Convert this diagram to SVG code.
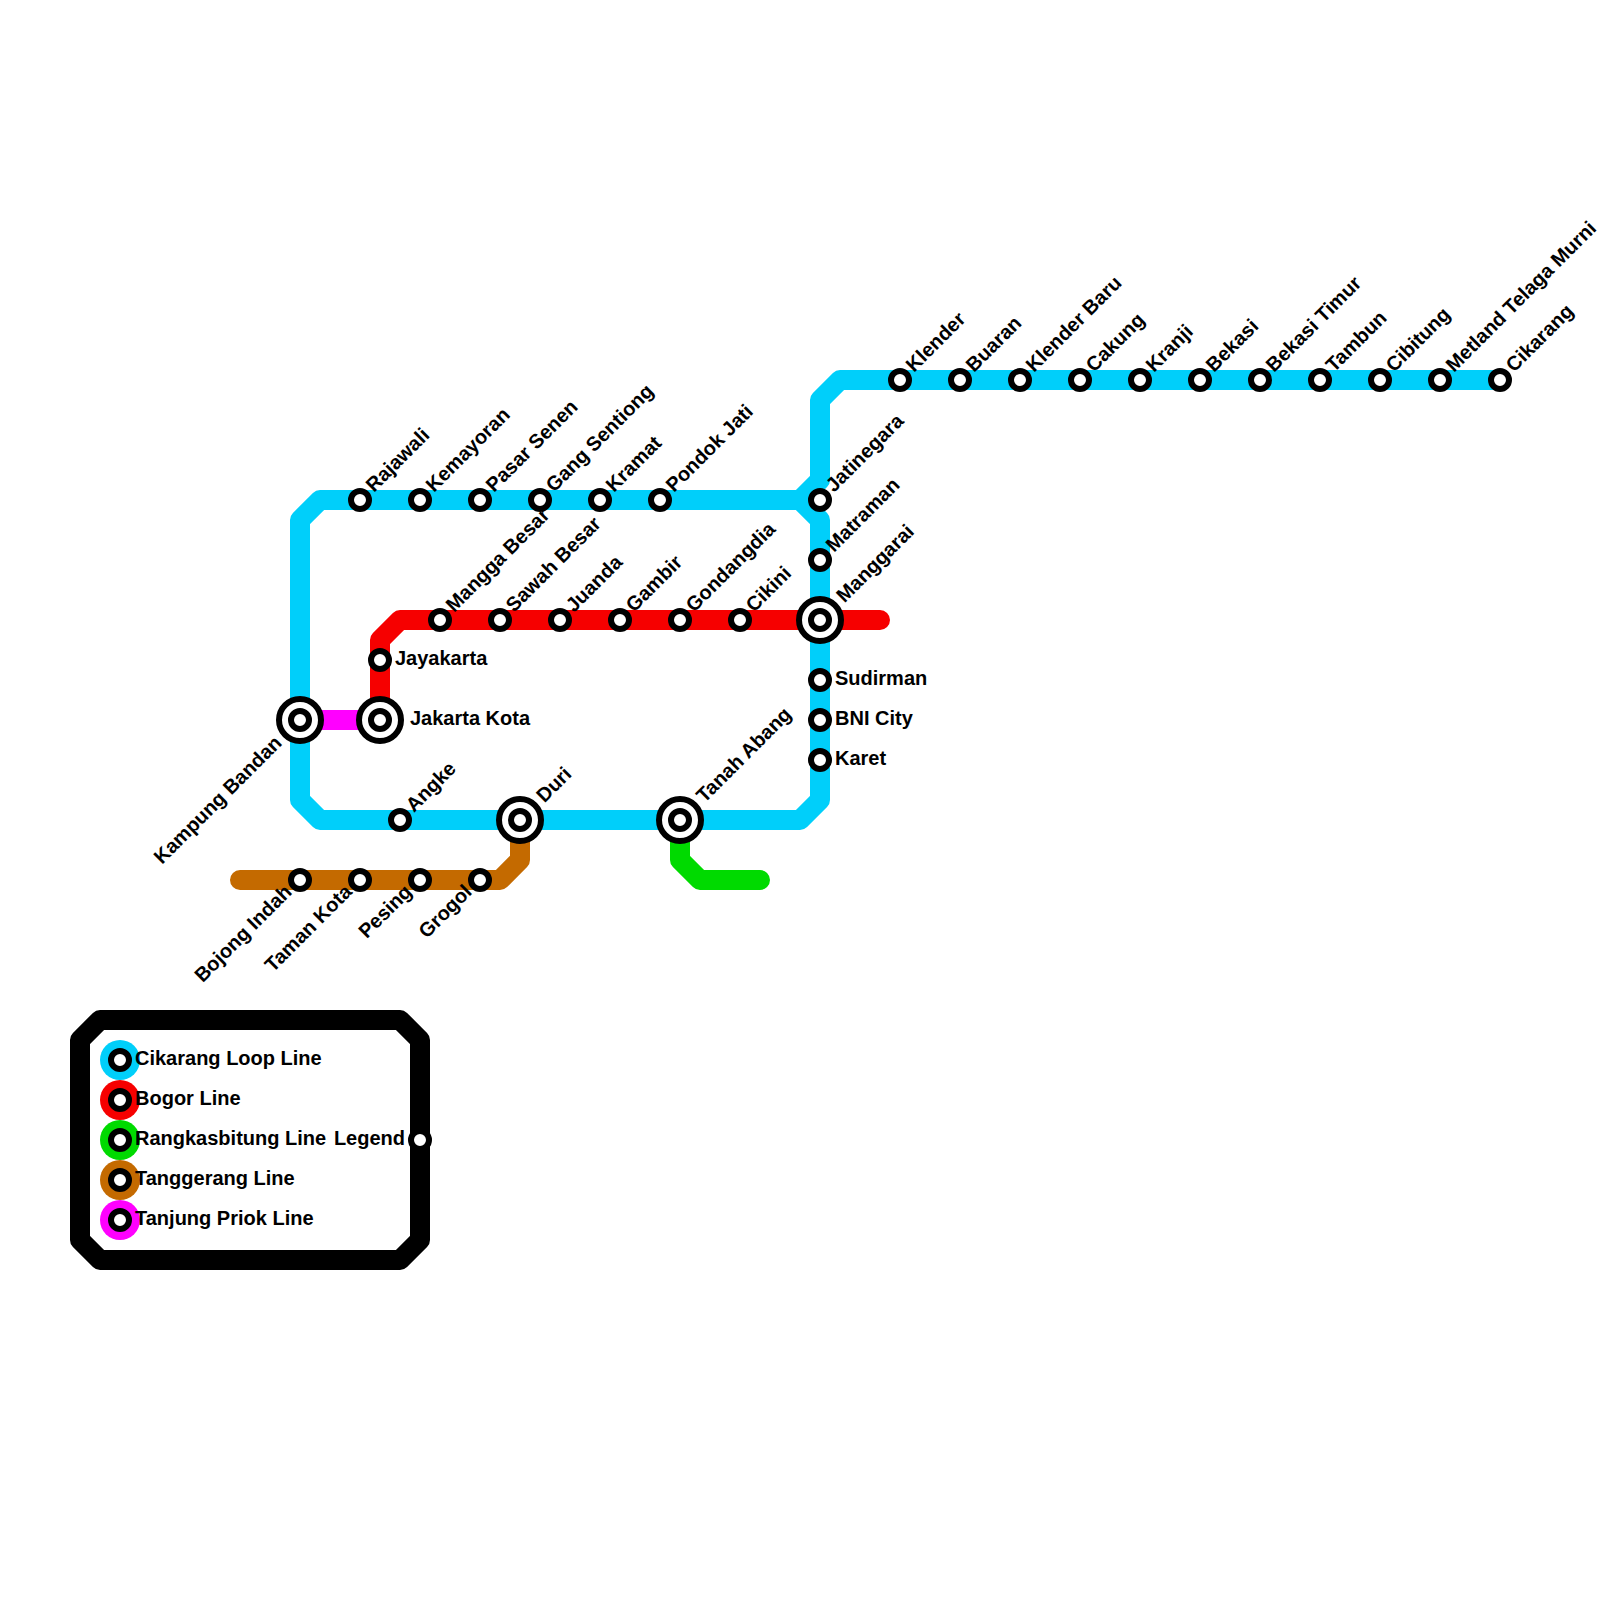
<svg xmlns="http://www.w3.org/2000/svg" width="1600" height="1600" viewBox="0 0 1600 1600">
<style>
text{font-family:"Liberation Sans",Arial,sans-serif;font-weight:bold;font-size:20px;fill:#000}
.end{text-anchor:end}
.l{fill:none;stroke-width:20;stroke-linecap:round;stroke-linejoin:round}
.s{fill:#fff;stroke:#000;stroke-width:6}
</style>
<defs>
<circle id="st" class="s" r="9"/>
<g id="ic"><circle class="s" r="21"/><circle class="s" r="9"/></g>
</defs>
<rect width="1600" height="1600" fill="#fff"/>
<g id="connectors">
<path class="l" stroke="#00cffa" d="M1500 380H840L820 400V480L800 500H320L300 520V800L320 820H800L820 800V520L800 500"/>
<path class="l" stroke="#f60000" d="M880 620H400L380 640V720"/>
<path class="l" stroke="#ff00ff" d="M300 720H380"/>
<path class="l" stroke="#c46a00" d="M240 880H500L520 860V820"/>
<path class="l" stroke="#00da00" d="M680 820V860L700 880H760"/>
</g>
<g id="rajawali"><use href="#st" x="360" y="500"/><text transform="translate(374,493) rotate(-45)">Rajawali</text></g>
<g id="kemayoran"><use href="#st" x="420" y="500"/><text transform="translate(434,493) rotate(-45)">Kemayoran</text></g>
<g id="pasar-senen"><use href="#st" x="480" y="500"/><text transform="translate(494,493) rotate(-45)">Pasar Senen</text></g>
<g id="gang-sentiong"><use href="#st" x="540" y="500"/><text transform="translate(554,493) rotate(-45)">Gang Sentiong</text></g>
<g id="kramat"><use href="#st" x="600" y="500"/><text transform="translate(614,493) rotate(-45)">Kramat</text></g>
<g id="pondok-jati"><use href="#st" x="660" y="500"/><text transform="translate(674,493) rotate(-45)">Pondok Jati</text></g>
<g id="jatinegara"><use href="#st" x="820" y="500"/><text transform="translate(834,493) rotate(-45)">Jatinegara</text></g>
<g id="matraman"><use href="#st" x="820" y="560"/><text transform="translate(834,553) rotate(-45)">Matraman</text></g>
<g id="manggarai"><use href="#ic" x="820" y="620"/><text transform="translate(844.5,603.5) rotate(-45)">Manggarai</text></g>
<g id="sudirman"><use href="#st" x="820" y="680"/><text x="835" y="685">Sudirman</text></g>
<g id="bni-city"><use href="#st" x="820" y="720"/><text x="835" y="725">BNI City</text></g>
<g id="karet"><use href="#st" x="820" y="760"/><text x="835" y="765">Karet</text></g>
<g id="klender"><use href="#st" x="900" y="380"/><text transform="translate(914,373) rotate(-45)">Klender</text></g>
<g id="buaran"><use href="#st" x="960" y="380"/><text transform="translate(974,373) rotate(-45)">Buaran</text></g>
<g id="klender-baru"><use href="#st" x="1020" y="380"/><text transform="translate(1034,373) rotate(-45)">Klender Baru</text></g>
<g id="cakung"><use href="#st" x="1080" y="380"/><text transform="translate(1094,373) rotate(-45)">Cakung</text></g>
<g id="kranji"><use href="#st" x="1140" y="380"/><text transform="translate(1154,373) rotate(-45)">Kranji</text></g>
<g id="bekasi"><use href="#st" x="1200" y="380"/><text transform="translate(1214,373) rotate(-45)">Bekasi</text></g>
<g id="bekasi-timur"><use href="#st" x="1260" y="380"/><text transform="translate(1274,373) rotate(-45)">Bekasi Timur</text></g>
<g id="tambun"><use href="#st" x="1320" y="380"/><text transform="translate(1334,373) rotate(-45)">Tambun</text></g>
<g id="cibitung"><use href="#st" x="1380" y="380"/><text transform="translate(1394,373) rotate(-45)">Cibitung</text></g>
<g id="metland"><use href="#st" x="1440" y="380"/><text transform="translate(1454,373) rotate(-45)">Metland Telaga Murni</text></g>
<g id="cikarang"><use href="#st" x="1500" y="380"/><text transform="translate(1514,373) rotate(-45)">Cikarang</text></g>
<g id="mangga-besar"><use href="#st" x="440" y="620"/><text transform="translate(454,613) rotate(-45)">Mangga Besar</text></g>
<g id="sawah-besar"><use href="#st" x="500" y="620"/><text transform="translate(514,613) rotate(-45)">Sawah Besar</text></g>
<g id="juanda"><use href="#st" x="560" y="620"/><text transform="translate(574,613) rotate(-45)">Juanda</text></g>
<g id="gambir"><use href="#st" x="620" y="620"/><text transform="translate(634,613) rotate(-45)">Gambir</text></g>
<g id="gondangdia"><use href="#st" x="680" y="620"/><text transform="translate(694,613) rotate(-45)">Gondangdia</text></g>
<g id="cikini"><use href="#st" x="740" y="620"/><text transform="translate(754,613) rotate(-45)">Cikini</text></g>
<g id="jayakarta"><use href="#st" x="380" y="660"/><text x="395" y="665">Jayakarta</text></g>
<g id="jakarta-kota"><use href="#ic" x="380" y="720"/><text x="410" y="725">Jakarta Kota</text></g>
<g id="kampung-bandan"><use href="#ic" x="300" y="720"/><text class="end" transform="translate(283,744) rotate(-45)">Kampung Bandan</text></g>
<g id="angke"><use href="#st" x="400" y="820"/><text transform="translate(414,813) rotate(-45)">Angke</text></g>
<g id="duri"><use href="#ic" x="520" y="820"/><text transform="translate(544.5,803.5) rotate(-45)">Duri</text></g>
<g id="tanah-abang"><use href="#ic" x="680" y="820"/><text transform="translate(704.5,803.5) rotate(-45)">Tanah Abang</text></g>
<g id="bojong-indah"><use href="#st" x="300" y="880"/><text class="end" transform="translate(293,893) rotate(-45)">Bojong Indah</text></g>
<g id="taman-kota"><use href="#st" x="360" y="880"/><text class="end" transform="translate(353,893) rotate(-45)">Taman Kota</text></g>
<g id="pesing"><use href="#st" x="420" y="880"/><text class="end" transform="translate(413,893) rotate(-45)">Pesing</text></g>
<g id="grogol"><use href="#st" x="480" y="880"/><text class="end" transform="translate(473,893) rotate(-45)">Grogol</text></g>
<g id="legend">
<path fill="none" stroke="#000" stroke-width="20" stroke-linejoin="round" d="M100 1020H400L420 1040V1240L400 1260H100L80 1240V1040Z"/>
<use href="#st" x="420" y="1140"/>
<text class="end" x="405" y="1145">Legend</text>
<circle cx="120" cy="1060" r="20" fill="#00cffa"/><use href="#st" x="120" y="1060"/><text x="135" y="1065">Cikarang Loop Line</text>
<circle cx="120" cy="1100" r="20" fill="#f60000"/><use href="#st" x="120" y="1100"/><text x="135" y="1105">Bogor Line</text>
<circle cx="120" cy="1140" r="20" fill="#00da00"/><use href="#st" x="120" y="1140"/><text x="135" y="1145">Rangkasbitung Line</text>
<circle cx="120" cy="1180" r="20" fill="#c46a00"/><use href="#st" x="120" y="1180"/><text x="135" y="1185">Tanggerang Line</text>
<circle cx="120" cy="1220" r="20" fill="#ff00ff"/><use href="#st" x="120" y="1220"/><text x="135" y="1225">Tanjung Priok Line</text>
</g>
</svg>
